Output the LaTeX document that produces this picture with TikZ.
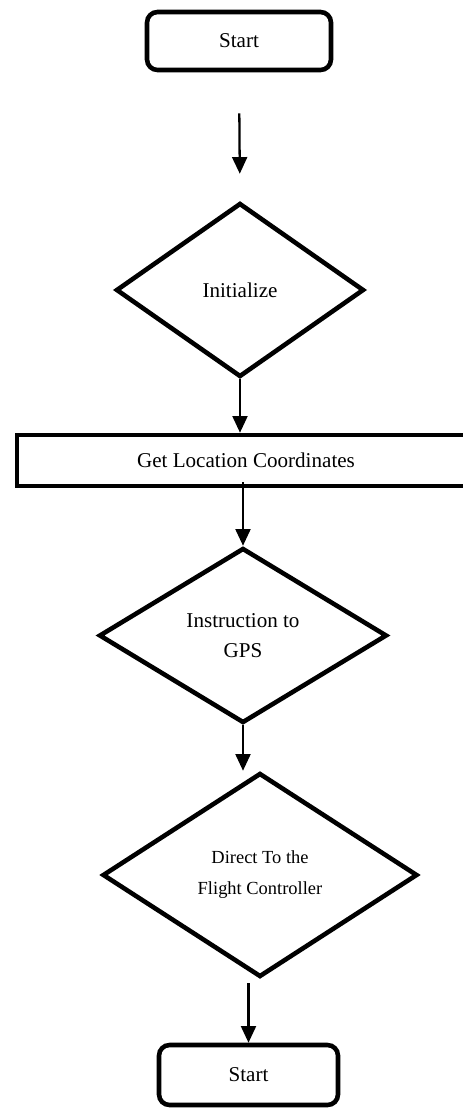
\documentclass[tikz,border=0pt]{standalone}
\usepackage{fontspec}
\setmainfont{Liberation Serif}
\usepackage{tikz}
\usetikzlibrary{arrows.meta,shapes.geometric}
\tikzset{
  term/.style={rectangle,draw,line width=2.6pt,rounded corners=6pt,inner sep=0pt,font=\fontsize{12}{17}\selectfont},
  proc/.style={rectangle,draw,line width=2.6pt,inner sep=0pt,font=\fontsize{12}{17}\selectfont},
  dec/.style ={diamond,draw,line width=2.6pt,inner sep=0pt,align=center,font=\fontsize{12}{17}\selectfont},
  ar/.style  ={-{Triangle[length=9.5pt,width=8.5pt]},line width=1.3pt},
}
\begin{document}
\begin{tikzpicture}[x=0.02cm,y=-0.02cm]
  \useasboundingbox (0,0) rectangle (463,1109);
  \clip (0,0) rectangle (463,1109);
  % boxes, top to bottom
  \node[term,minimum width=3.68cm,minimum height=1.16cm] (start) at (239,41){Start};
  \node[dec,minimum width=4.96cm,minimum height=3.48cm] (init) at (240,290){Initialize};
  \node[proc,minimum width=9.16cm,minimum height=1.02cm,text depth=-0.1cm] (loc) at (246,460.5){Get Location Coordinates};
  \node[dec,minimum width=5.76cm,minimum height=3.5cm] (gps) at (243,635.5){Instruction to\\GPS};
  \node[dec,minimum width=6.3cm,minimum height=4.08cm,font=\fontsize{10.5}{17.6}\selectfont] (fly) at (260,875){Direct To the\\Flight Controller};
  \node[term,minimum width=3.58cm,minimum height=1.2cm] (stop) at (248.5,1075){Start};
  % arrows
  \draw[ar,shorten <=0.82cm,shorten >=0.54cm] (start.south) -- (init.north);
  \draw[ar] (init.south) -- (init.south |- loc.north);
  \draw[ar,shorten <=-0.12cm] (loc.south -| gps.north) -- (gps.north);
  \draw[ar] (gps.south) -- (gps.south |- fly.north);
  \draw[ar,shorten <=0.08cm] (fly.south -| stop.north) -- (stop.north);
\end{tikzpicture}
\end{document}
